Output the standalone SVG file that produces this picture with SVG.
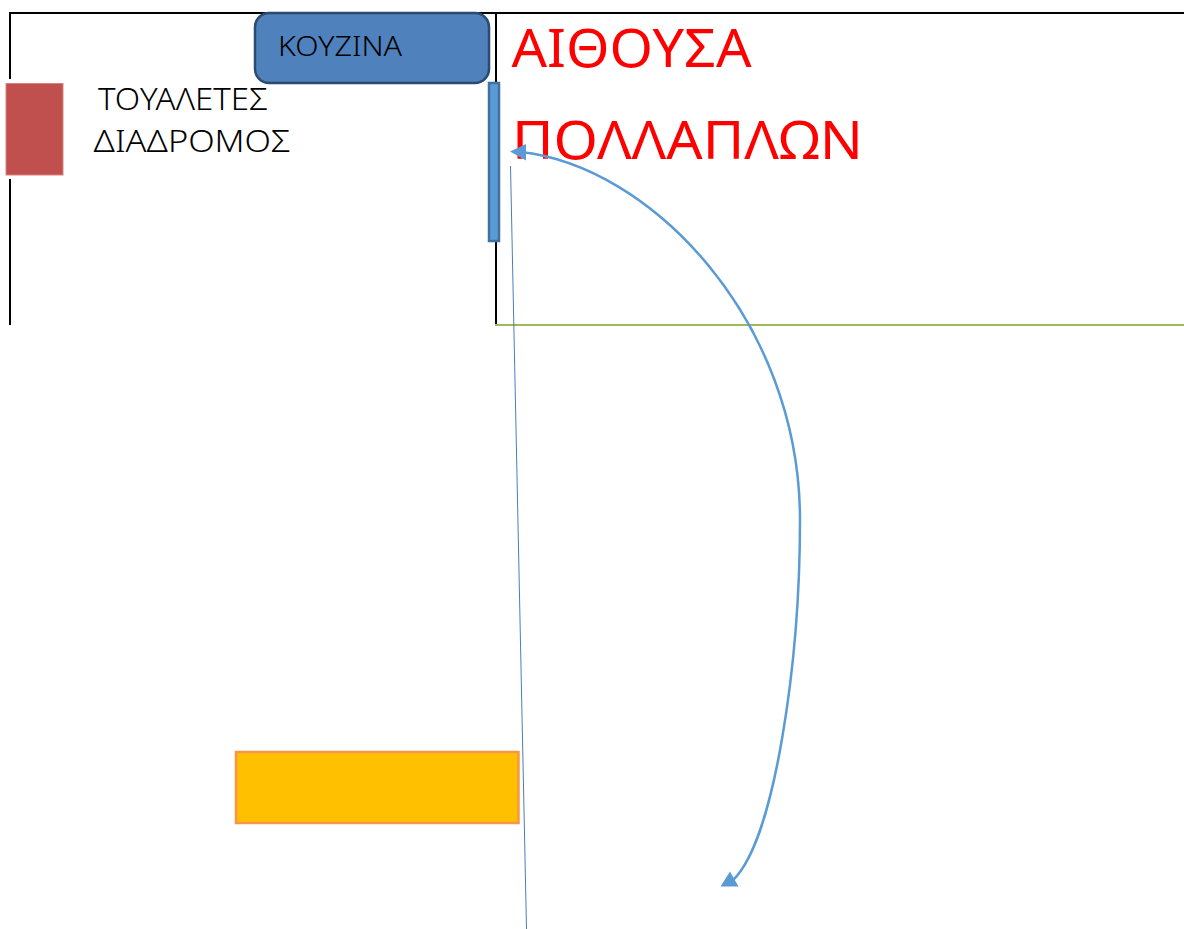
<svg xmlns="http://www.w3.org/2000/svg" width="1184" height="929" viewBox="0 0 1184 929">
<style>
text{font-family:"Noto Sans","Liberation Sans",sans-serif;font-weight:300}
.blk{font-size:31px;fill:#000}
.red{font-size:53px;fill:#f00;font-weight:400}
.wall{stroke:#000;stroke-width:2;fill:none}
.arc{stroke:#5b9bd5;stroke-width:2.500;fill:none}
.head{fill:#5b9bd5}
</style>
<rect width="1184" height="929" fill="#fff"/>
<g id="walls">
<path class="wall" d="M10,325V13H1184M496,13V325"/>
</g>
<g id="toilets">
<rect x="2" y="79" width="65" height="100" fill="#fff"/>
<rect x="6" y="83.500" width="57" height="91.500" fill="#c0504d" stroke="#d9817f" stroke-width="1"/>
<text class="blk" x="98" y="110" textLength="170" lengthAdjust="spacingAndGlyphs">ΤΟΥΑΛΕΤΕΣ</text>
<text class="blk" x="93.500" y="152" textLength="197" lengthAdjust="spacingAndGlyphs">ΔΙΑΔΡΟΜΟΣ</text>
</g>
<g id="kitchen">
<rect x="255" y="13" width="234" height="70" rx="14" fill="#4f81bd" stroke="#2a4a70" stroke-width="2.500"/>
<text x="278" y="56" font-size="28" fill="#000" textLength="124" lengthAdjust="spacingAndGlyphs">ΚΟΥΖΙΝΑ</text>
</g>
<g id="door">
<rect x="489" y="83" width="10" height="158" fill="#5b9bd5" stroke="#41719c" stroke-width="2.500"/>
</g>
<g id="hall-label">
<text class="red" x="511.500" y="67" textLength="240" lengthAdjust="spacingAndGlyphs">ΑΙΘΟΥΣΑ</text>
<text class="red" x="512" y="159" textLength="351" lengthAdjust="spacingAndGlyphs">ΠΟΛΛΑΠΛΩΝ</text>
</g>
<g id="floor-line">
<line x1="495" y1="325" x2="1184" y2="325" stroke="#9bbb59" stroke-width="2"/>
</g>
<g id="stage">
<rect x="236" y="752" width="282.500" height="71" fill="#ffc000" stroke="#f79646" stroke-width="2.500"/>
</g>
<g id="connectors">
<line x1="510.500" y1="166" x2="526.500" y2="929" stroke="#4a7ebb" stroke-width="1"/>
<path class="arc" d="M520,152C650,165 800,320 800,520C800,660 775,840 733,880"/>
<polygon class="head" points="510,151.500 526,144 526,160.500"/>
<polygon class="head" points="720.500,886.500 730,871.500 738.500,886.500"/>
</g>
</svg>
